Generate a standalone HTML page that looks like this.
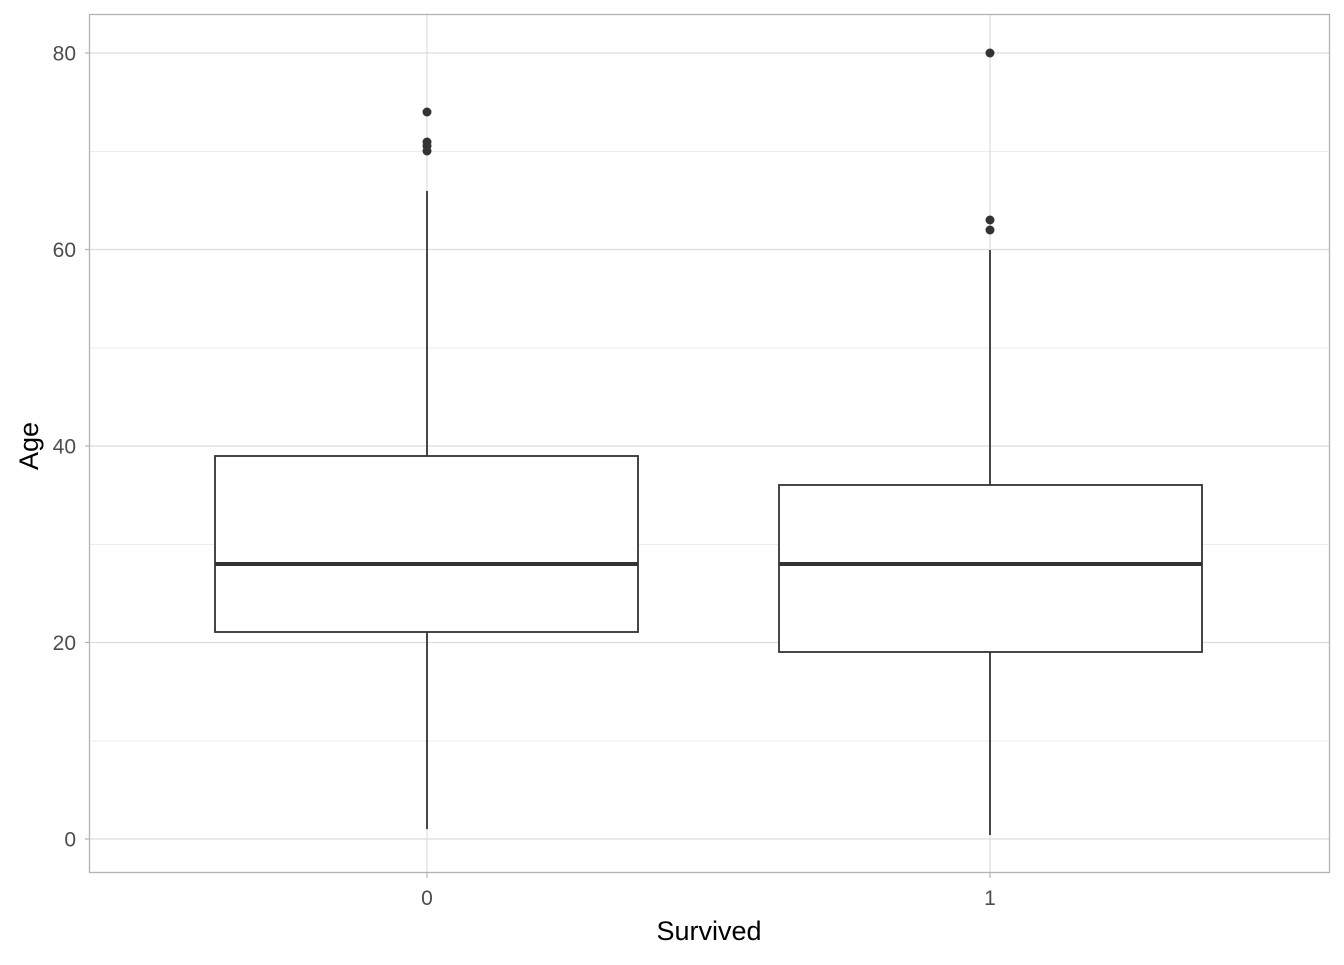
<!DOCTYPE html><html><head><style>body{margin:0;background:#fff}</style></head><body>
<svg width="1344" height="960" xmlns="http://www.w3.org/2000/svg" font-family="Liberation Sans, sans-serif">
<rect width="1344" height="960" fill="#fff"/>
<g stroke="#ececec" stroke-width="1">
<line x1="90" x2="1329" y1="741" y2="741"/><line x1="90" x2="1329" y1="544.5" y2="544.5"/><line x1="90" x2="1329" y1="348" y2="348"/><line x1="90" x2="1329" y1="151.5" y2="151.5"/>
</g>
<g stroke="#dedede" stroke-width="1.3">
<line x1="90" x2="1329" y1="839" y2="839"/><line x1="90" x2="1329" y1="642.5" y2="642.5"/><line x1="90" x2="1329" y1="446" y2="446"/><line x1="90" x2="1329" y1="249.5" y2="249.5"/><line x1="90" x2="1329" y1="53" y2="53"/>
<line x1="427" x2="427" y1="15" y2="872"/><line x1="990" x2="990" y1="15" y2="872"/>
</g>
<g stroke="#333" stroke-width="1.8" fill="#fff">
<line x1="427" x2="427" y1="829" y2="632"/><line x1="427" x2="427" y1="456" y2="191"/>
<rect x="215" y="456" width="423" height="176"/>
<line x1="990" x2="990" y1="835" y2="652"/><line x1="990" x2="990" y1="485" y2="250"/>
<rect x="779" y="485" width="423" height="167"/>
</g>
<g stroke="#333" stroke-width="4"><line x1="215" x2="638" y1="564" y2="564"/><line x1="779" x2="1202" y1="564" y2="564"/></g>
<g fill="#333">
<circle cx="427" cy="112" r="4.5"/><circle cx="427" cy="142" r="4.5"/><circle cx="427" cy="146" r="4.5"/><circle cx="427" cy="151" r="4.5"/>
<circle cx="990" cy="53" r="4.5"/><circle cx="990" cy="220" r="4.5"/><circle cx="990" cy="230" r="4.5"/>
</g>
<rect x="89.5" y="14.5" width="1240" height="858" fill="none" stroke="#b3b3b3" stroke-width="1.3"/>
<g stroke="#b3b3b3" stroke-width="1.2">
<line x1="85" x2="89" y1="839" y2="839"/><line x1="85" x2="89" y1="642.5" y2="642.5"/><line x1="85" x2="89" y1="446" y2="446"/><line x1="85" x2="89" y1="249.5" y2="249.5"/><line x1="85" x2="89" y1="53" y2="53"/>
<line x1="427" x2="427" y1="873" y2="878"/><line x1="990" x2="990" y1="873" y2="878"/>
</g>
<g fill="#4d4d4d" font-size="21" text-anchor="end">
<text x="76" y="846.5">0</text><text x="76" y="650">20</text><text x="76" y="453.5">40</text><text x="76" y="257">60</text><text x="76" y="60.5">80</text>
</g>
<g fill="#4d4d4d" font-size="21" text-anchor="middle"><text x="427" y="905">0</text><text x="990" y="905">1</text></g>
<text x="709" y="940" font-size="27" text-anchor="middle" fill="#000">Survived</text>
<text transform="translate(38,446) rotate(-90)" font-size="27" text-anchor="middle" fill="#000">Age</text>
</svg></body></html>
